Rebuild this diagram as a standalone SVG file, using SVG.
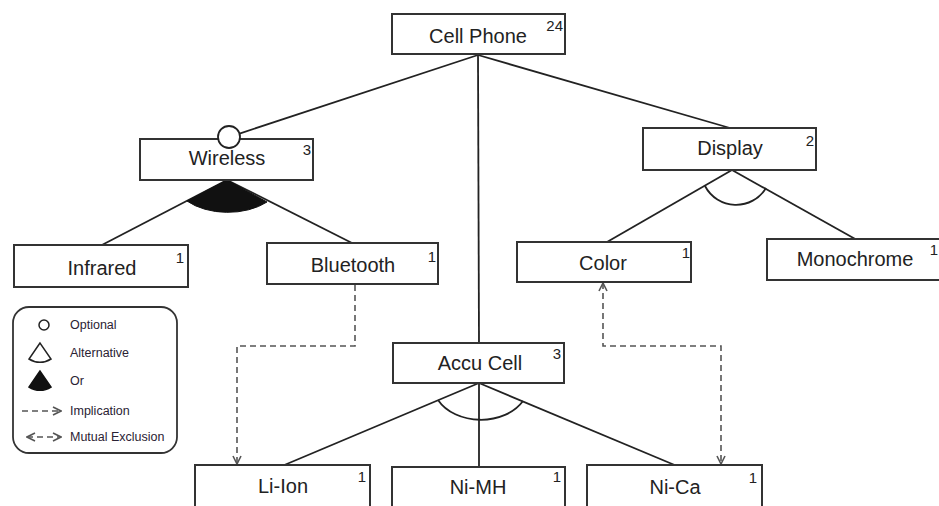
<svg xmlns="http://www.w3.org/2000/svg" width="939" height="506" viewBox="0 0 939 506">
<style>
.box{fill:#fff;stroke:#333;stroke-width:2}
.lbl{font-family:"Liberation Sans",Arial,sans-serif;font-size:20px;fill:#222;text-anchor:middle}
.num{font-family:"Liberation Sans",Arial,sans-serif;font-size:15px;fill:#222;text-anchor:end}
.ln{stroke:#222;stroke-width:1.8;fill:none}
.dash{stroke:#555;stroke-width:1.6;fill:none;stroke-dasharray:6 4}
.leg{font-family:"Liberation Sans",Arial,sans-serif;font-size:12.5px;fill:#2a2233}
</style>
<defs>
<marker id="arr" viewBox="0 0 10 10" refX="9" refY="5" markerWidth="10" markerHeight="10" markerUnits="userSpaceOnUse" orient="auto-start-reverse">
<path d="M1,1 L9,5 L1,9" fill="none" stroke="#555" stroke-width="1.6"/>
</marker>
</defs>
<rect width="939" height="506" fill="#fff"/>
<g id="connectors">
<line class="ln" x1="478" y1="55" x2="239.5" y2="133.6"/>
<line class="ln" x1="478" y1="55" x2="730" y2="128"/>
<line class="ln" x1="478" y1="55" x2="479" y2="343"/>
<line class="ln" x1="227" y1="180" x2="100" y2="246"/>
<line class="ln" x1="227" y1="180" x2="352" y2="243"/>
<path d="M227,180 L187,201 A54,33 0 0 0 267,202 Z" fill="#111" stroke="#111" stroke-width="1"/>
<line class="ln" x1="732" y1="170" x2="607" y2="242"/>
<line class="ln" x1="732" y1="170" x2="857" y2="240"/>
<path class="ln" d="M705,186 A35,35 0 0 0 766,188"/>
<line class="ln" x1="479" y1="383" x2="282" y2="466"/>
<line class="ln" x1="479" y1="383" x2="479" y2="467"/>
<line class="ln" x1="479" y1="383" x2="677" y2="466"/>
<path class="ln" d="M438,400 A48,36 0 0 0 523,401"/>
<path class="dash" d="M355,285 L355,346 L237,346 L237,464" marker-end="url(#arr)"/>
<path class="dash" d="M603,283 L603,346 L721,346 L721,464" marker-start="url(#arr)" marker-end="url(#arr)"/>
</g>
<g id="cellphone">
<rect class="box" x="392" y="14" width="173" height="40"/>
<text class="lbl" x="478" y="43">Cell Phone</text>
<text class="num" x="563" y="31">24</text>
</g>
<g id="wireless">
<rect class="box" x="140" y="139" width="173" height="41"/>
<text class="lbl" x="227" y="165">Wireless</text>
<text class="num" x="311" y="155">3</text>
<circle cx="229" cy="137" r="11" fill="#fff" stroke="#222" stroke-width="1.8"/>
</g>
<g id="display">
<rect class="box" x="643" y="128" width="173" height="42"/>
<text class="lbl" x="730" y="155">Display</text>
<text class="num" x="814" y="146">2</text>
</g>
<g id="infrared">
<rect class="box" x="14" y="245" width="174" height="42"/>
<text class="lbl" x="102" y="275">Infrared</text>
<text class="num" x="184" y="263">1</text>
</g>
<g id="bluetooth">
<rect class="box" x="267" y="243" width="171" height="41"/>
<text class="lbl" x="353" y="272">Bluetooth</text>
<text class="num" x="436" y="262">1</text>
</g>
<g id="color">
<rect class="box" x="517" y="242" width="174" height="40"/>
<text class="lbl" x="603" y="270">Color</text>
<text class="num" x="690" y="258">1</text>
</g>
<g id="monochrome">
<rect class="box" x="767" y="239" width="180" height="41"/>
<text class="lbl" x="855" y="266">Monochrome</text>
<text class="num" x="938" y="255">1</text>
</g>
<g id="accucell">
<rect class="box" x="393" y="343" width="171" height="40"/>
<text class="lbl" x="480" y="370">Accu Cell</text>
<text class="num" x="561" y="359">3</text>
</g>
<g id="liion">
<rect class="box" x="195" y="465" width="175" height="50"/>
<text class="lbl" x="283" y="493">Li-Ion</text>
<text class="num" x="366" y="482">1</text>
</g>
<g id="nimh">
<rect class="box" x="392" y="467" width="173" height="50"/>
<text class="lbl" x="478" y="494">Ni-MH</text>
<text class="num" x="561" y="482">1</text>
</g>
<g id="nica">
<rect class="box" x="587" y="465" width="175" height="50"/>
<text class="lbl" x="675" y="494">Ni-Ca</text>
<text class="num" x="757" y="483">1</text>
</g>
<g id="legend">
<rect x="13" y="307" width="164" height="146" rx="16" fill="#fff" stroke="#333" stroke-width="1.8"/>
<circle cx="44" cy="325" r="5" fill="#fff" stroke="#222" stroke-width="1.5"/>
<text class="leg" x="70" y="329">Optional</text>
<path d="M40,343 L29,359 A20,20 0 0 0 51,359 Z" fill="#fff" stroke="#222" stroke-width="1.5"/>
<text class="leg" x="70" y="357">Alternative</text>
<path d="M40,371 L29,387 A20,20 0 0 0 51,387 Z" fill="#111" stroke="#111" stroke-width="1.5"/>
<text class="leg" x="70" y="385">Or</text>
<path class="dash" d="M22,411 L61,411" stroke-dasharray="5 4" marker-end="url(#arr)"/>
<text class="leg" x="70" y="415">Implication</text>
<path class="dash" d="M27,437 L61,437" stroke-dasharray="5 4" marker-start="url(#arr)" marker-end="url(#arr)"/>
<text class="leg" x="70" y="441">Mutual Exclusion</text>
</g>
</svg>
